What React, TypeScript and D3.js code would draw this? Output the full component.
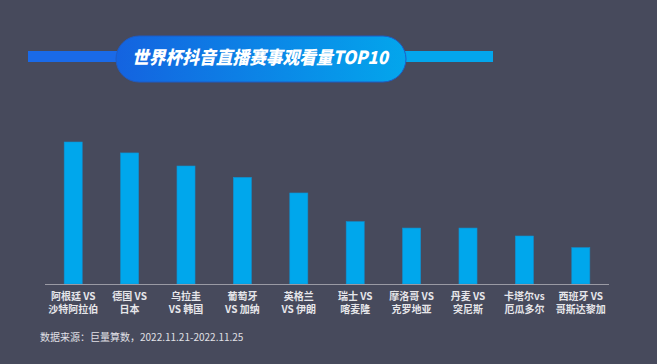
import React from "react";
import * as d3 from "d3";

const categories = ["阿根廷 VS|沙特阿拉伯", "德国 VS|日本", "乌拉圭|VS 韩国", "葡萄牙|VS 加纳", "英格兰|VS 伊朗", "瑞士 VS|喀麦隆", "摩洛哥 VS|克罗地亚", "丹麦 VS|突尼斯", "卡塔尔vs|厄瓜多尔", "西班牙 VS|哥斯达黎加"];
const values = [100, 92.3, 83.1, 75.1, 64.1, 43.9, 39.4, 39.4, 33.8, 25.6];
const title = "世界杯抖音直播赛事观看量TOP10";
const source = "数据来源：巨量算数，2022.11.21-2022.11.25";

const W = 657, H = 364;
const FONT = "'Noto Sans CJK SC', 'Noto Sans', sans-serif";

export default function App() {
  const x = d3.scaleBand<string>().domain(categories).range([45, 609]).paddingInner(0.68).paddingOuter(0.34);
  const y = d3.scaleLinear().domain([0, 100]).range([284, 142]);
  return (
    <svg width={W} height={H} style={{ position: "absolute", left: 0, top: 0, display: "block" }} fontFamily={FONT}>
      <defs>
        <linearGradient id="pill" x1="0" x2="1" y1="0" y2="0">
          <stop offset="0" stopColor="#1463e0" />
          <stop offset="1" stopColor="#03a6ec" />
        </linearGradient>
      </defs>
      <rect x={0} y={0} width={W} height={H} fill="#474a5c" />
      <rect x={28} y={51} width={90} height={11} fill="#1a6ae8" />
      <rect x={404} y={51} width={89} height={11} fill="#03a6ec" />
      <rect x={116} y={36} width={290} height={46} rx={23} fill="url(#pill)" stroke="#1f5bc4" strokeWidth={1} />
      <text x={260} y={64} textAnchor="middle" fill="#fff" fontSize={18} fontWeight={900} fontStyle="italic" textLength={256} lengthAdjust="spacingAndGlyphs">{title}</text>
      {categories.map((c, i) => (
        <rect key={c} x={x(c)} y={y(values[i])} width={x.bandwidth()} height={y(0) - y(values[i])} fill="#00a7ec" stroke="#1090d0" strokeWidth={0.6} />
      ))}
      <line x1={45} x2={609} y1={284.5} y2={284.5} stroke="#9a9aa4" strokeWidth={1} />
      {categories.map((c) => {
        const [a, b] = c.split("|");
        const cx = (x(c) as number) + x.bandwidth() / 2;
        return (
          <g key={c}>
            <text x={cx} y={300} textAnchor="middle" fill="#e6e6ea" fontSize={10} fontWeight={600}>{a}</text>
            <text x={cx} y={313} textAnchor="middle" fill="#e6e6ea" fontSize={10} fontWeight={600}>{b}</text>
          </g>
        );
      })}
      <text x={40} y={341} fill="#e0e0e6" fontSize={10}>{source}</text>
    </svg>
  );
}
